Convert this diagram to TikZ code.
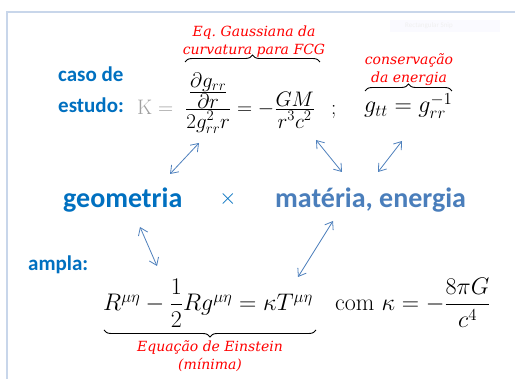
\RequirePackage{fix-cm}
\documentclass[tikz,border=0pt]{standalone}
\usepackage{amsmath}
\usepackage{fontspec}
\newfontfamily\calfont{Carlito}
\newfontfamily\redfont{DejaVu Serif}
\usetikzlibrary{arrows.meta,decorations.pathreplacing}
\definecolor{dblue}{HTML}{0070C0}
\definecolor{mblue}{HTML}{4A7EBB}
\definecolor{ablue}{HTML}{4F81BD}
\definecolor{frame}{HTML}{C8D6EA}
\definecolor{kgray}{HTML}{A0A0A0}
\tikzset{
  lbl/.style={font=\calfont\bfseries\fontsize{21}{25}\selectfont, text=dblue, inner sep=0pt},
  big/.style={font=\calfont\bfseries\fontsize{28}{32}\selectfont, inner sep=0pt},
  redlbl/.style={font=\redfont\itshape\fontsize{14}{18}\selectfont, text=red, align=center, inner sep=0pt},
  topmath/.style={font=\fontsize{21}{25}\selectfont, inner sep=0pt},
  botmath/.style={font=\fontsize{24}{28}\selectfont, inner sep=0pt},
  curly/.style={draw=black, line width=0.9pt, decorate, decoration={brace, amplitude=7pt}},
  dbl/.style={draw=ablue, line width=0.8pt, {Straight Barb[length=7pt,width=10pt]}-{Straight Barb[length=7pt,width=10pt]}}
}
\begin{document}
\begin{tikzpicture}[x=1pt,y=1pt]
\useasboundingbox (0,0) rectangle (515,-379);
\fill[white] (0,0) rectangle (515,-379);
% frame
\draw[frame, line width=2pt] (7,-379) -- (7,-12) -- (515,-12);
% faint snip box
\fill[blue!2] (390,-20) rectangle (500,-32);
\node[font=\calfont\fontsize{7}{8}\selectfont, text=black!6, anchor=west, inner sep=0pt] (snip) at (405,-26) {Rectangular Snip};
% left labels
\node[lbl, anchor=base west] (caso) at (58,-82) {caso de};
\node[lbl, anchor=base west] (estudo) at (58,-113) {estudo:};
\node[anchor=base west, text=kgray, inner sep=0pt, font=\fontsize{21}{25}\selectfont] (K) at (137,-115) {$\mathrm{K} =$};
% top equation
\node[topmath, anchor=base west] (eqK) at (185,-115) {$\textstyle \frac{\textstyle\frac{\textstyle\partial g_{rr}}{\textstyle\partial r}}{\textstyle 2g_{rr}^2 r} = -\frac{\textstyle GM}{\textstyle r^3c^2}$};
\node[topmath, anchor=base west] (semi) at (331,-115) {$;$};
\node[topmath, anchor=base west, font=\fontsize{24}{28}\selectfont] (gtt) at (364,-113) {$g_{tt} = g_{rr}^{-1}$};
\coordinate (bK1) at (185,-62); \coordinate (bK2) at (320,-62);
\coordinate (bE1) at (365,-91); \coordinate (bE2) at (452,-91);
\draw[curly] (bK1) -- (bK2);
\draw[curly] (bE1) -- (bE2);
\node[redlbl] (redK) at (254,-42) {Eq.~Gaussiana da\\curvatura para FCG};
\node[redlbl] (redE) at (409,-70) {conservação\\da energia};
% middle
\node[big, text=dblue, anchor=base west] (geo) at (63,-208) {geometria};
\node[text=dblue, inner sep=0pt, font=\fontsize{22}{26}\selectfont] (times) at (228,-199) {$\times$};
\node[big, text=mblue, anchor=base west] (mat) at (275,-208) {matéria, energia};
\node[lbl, anchor=base west] (ampla) at (28,-271) {ampla:};
% bottom equation
\node[botmath, anchor=base west] (ein) at (103,-311) {$R^{\mu\eta} - \dfrac{1}{2} R g^{\mu\eta} = \kappa T^{\mu\eta}$};
\node[botmath, anchor=base west] (com) at (335,-311) {$\mathrm{com}\ \kappa = -\dfrac{8\pi G}{c^4}$};
\coordinate (bEin1) at (316,-330); \coordinate (bEin2) at (104,-330);
\draw[curly] (bEin1) -- (bEin2);
\node[redlbl] (redEin) at (210,-356) {Equação de Einstein\\(mínima)};
% arrows
\coordinate (a1s) at (170,-174); \coordinate (a1e) at (199,-143);
\coordinate (a2s) at (316,-140); \coordinate (a2e) at (342,-172);
\coordinate (a3s) at (402,-141); \coordinate (a3e) at (378,-172);
\coordinate (a4s) at (140,-227); \coordinate (a4e) at (157,-266);
\coordinate (a5s) at (333,-221); \coordinate (a5e) at (298,-277);
\draw[dbl] (a1s) -- (a1e);
\draw[dbl] (a2s) -- (a2e);
\draw[dbl] (a3s) -- (a3e);
\draw[dbl] (a4s) -- (a4e);
\draw[dbl] (a5s) -- (a5e);
\end{tikzpicture}
\end{document}
